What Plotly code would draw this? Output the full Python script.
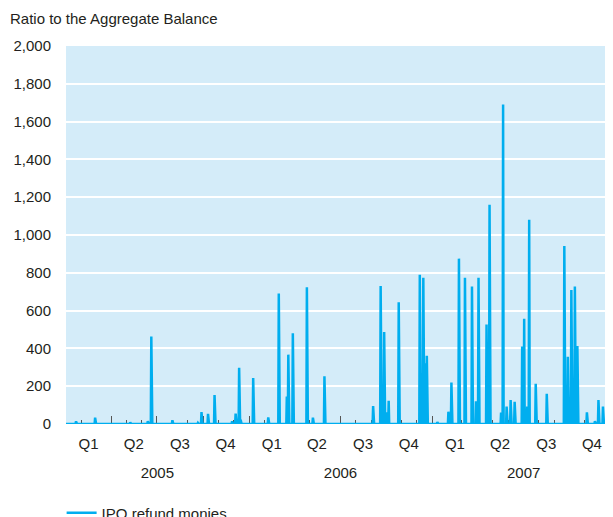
import pandas as pd
import plotly.graph_objects as go

# ---- data ----
spike_dates = [
    "2005-01-21", "2005-02-28", "2005-05-09", "2005-06-13", "2005-06-20", "2005-08-01",
    "2005-09-21", "2005-09-28", "2005-10-11", "2005-10-24", "2005-11-28", "2005-12-05",
    "2005-12-12", "2005-12-15",
    "2006-01-09", "2006-02-08", "2006-03-01", "2006-03-17", "2006-03-20", "2006-03-29",
    "2006-04-26", "2006-05-08", "2006-05-31", "2006-09-05", "2006-09-20", "2006-09-27",
    "2006-10-02", "2006-10-06", "2006-10-26", "2006-12-07", "2006-12-14", "2006-12-18",
    "2006-12-21",
    "2007-01-11", "2007-02-02", "2007-02-08", "2007-02-23", "2007-03-07", "2007-03-21",
    "2007-03-29", "2007-04-03", "2007-04-19", "2007-04-25", "2007-05-18", "2007-05-22",
    "2007-05-29", "2007-06-06", "2007-06-14", "2007-06-29", "2007-07-03", "2007-07-09",
    "2007-07-13", "2007-07-26", "2007-08-17", "2007-09-21", "2007-09-28", "2007-10-05",
    "2007-10-12", "2007-10-17", "2007-11-05", "2007-11-21", "2007-11-28", "2007-12-07",
    "2007-12-20",
]
spike_values = [
    14, 34, 8, 15, 463, 20, 6, 63, 54, 153, 14, 55, 298, 22,
    243, 35, 691, 145, 367, 480, 723, 34, 252, 95, 730, 487, 62, 123, 644, 790, 774, 321, 361,
    10, 65, 219, 875, 774, 728, 120, 774, 527, 1160, 60, 1690, 92, 127, 118, 410, 557, 92,
    1081, 213, 160, 942, 356, 709, 727, 413, 62, 15, 127, 92, 56,
]
series_name = "IPO refund monies"

quarter_label_dates = []
quarter_labels = []
for yr in ["2005", "2006", "2007"]:
    quarter_label_dates += [f"{yr}-02-15", f"{yr}-05-16", f"{yr}-08-16", f"{yr}-11-15"]
    quarter_labels += ["Q1", "Q2", "Q3", "Q4"]
year_label_dates = ["2005-07-02", "2006-07-02", "2007-07-02"]
year_labels = ["2005", "2006", "2007"]

y_ticks = list(range(0, 2001, 200))
y_ticktext = [f"{v:,}" for v in y_ticks]

# daily series: zero everywhere except the spikes seen on the chart
days = pd.date_range("2005-01-01", "2007-12-31", freq="D")
series = pd.Series(0.0, index=days)
for d, v in zip(spike_dates, spike_values):
    series[pd.Timestamp(d)] = v

FONT = "Liberation Sans, Arial, sans-serif"
TXT = "#231f20"
LINE = "#00aeef"

fig = go.Figure()
fig.add_trace(go.Scatter(
    x=series.index, y=series.values, mode="lines", name=series_name,
    line=dict(color=LINE, width=2.5), showlegend=True,
))
# carriers for the label-only axes (no visible marks)
fig.add_trace(go.Scatter(x=quarter_label_dates, y=[None] * len(quarter_label_dates),
                         xaxis="x2", yaxis="y", mode="lines", showlegend=False,
                         hoverinfo="skip"))
fig.add_trace(go.Scatter(x=year_label_dates, y=[None] * len(year_label_dates),
                         xaxis="x3", yaxis="y", mode="lines", showlegend=False,
                         hoverinfo="skip"))

xrange = ["2005-01-01", "2007-12-27"]

W, H = 605, 517
fig.update_layout(
    width=W, height=H,
    margin=dict(l=58, r=0, t=38, b=H - 416, autoexpand=False),
    paper_bgcolor="white",
    plot_bgcolor="#d4ecf9",
    font=dict(family=FONT, size=15, color=TXT),
    title=dict(text="Ratio to the Aggregate Balance", xref="container", yref="container",
               x=2 / W, xanchor="left", y=1 - 11 / H, yanchor="middle",
               font=dict(family=FONT, size=15, color=TXT)),
    xaxis=dict(
        type="date", range=xrange, showgrid=False, zeroline=False, showline=False,
        tickmode="linear", tick0="2005-01-01", dtick="M3",
        ticks="inside", ticklen=8, tickwidth=1.2, tickcolor="#555",
        showticklabels=False, layer="below traces",
        minor=dict(ticks="inside", ticklen=4, tickwidth=1.2, tickcolor="#555",
                   dtick="M1", tick0="2005-01-01", showgrid=False),
    ),
    xaxis2=dict(
        type="date", range=xrange, overlaying="x", anchor="y", side="bottom",
        showgrid=False, zeroline=False, showline=False, ticks="",
        tickmode="array", tickvals=quarter_label_dates, ticktext=quarter_labels,
        ticklabelstandoff=9, tickfont=dict(size=15, color=TXT),
    ),
    xaxis3=dict(
        type="date", range=xrange, overlaying="x", anchor="y", side="bottom",
        showgrid=False, zeroline=False, showline=False, ticks="",
        tickmode="array", tickvals=year_label_dates, ticktext=year_labels,
        ticklabelstandoff=38, tickfont=dict(size=15, color=TXT),
    ),
    yaxis=dict(
        range=[0, 2000], tickmode="array", tickvals=y_ticks, ticktext=y_ticktext,
        showgrid=True, gridcolor="white", gridwidth=2, zeroline=False, showline=False,
        ticks="", ticklabelstandoff=14, tickfont=dict(size=15, color=TXT),
    ),
    legend=dict(orientation="h", x=-0.008, xanchor="left", y=(416 - 505) / 378,
                yanchor="middle", font=dict(size=15, color=TXT), bgcolor="rgba(0,0,0,0)"),
    showlegend=True,
    hovermode=False,
)

fig.write_html("out.html")
